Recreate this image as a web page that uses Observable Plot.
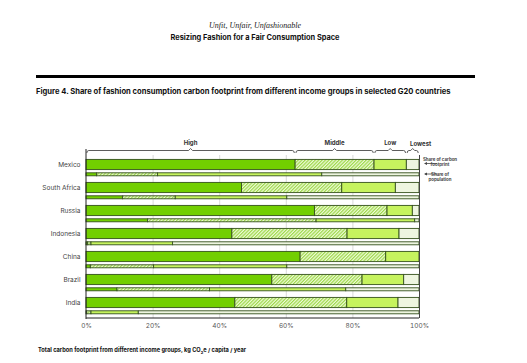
<!DOCTYPE html>
<html><head><meta charset="utf-8">
<script src="https://cdn.jsdelivr.net/npm/d3@7"></script>
<script src="https://cdn.jsdelivr.net/npm/@observablehq/plot@0.6"></script>
<style>
body{margin:0;background:#fff;font-family:Inter,"Liberation Sans",sans-serif;}
#page{position:relative;width:527px;height:363px;overflow:hidden;}
.abs{position:absolute;white-space:nowrap;}
</style></head>
<body><div id="page">
<div class="abs" style="left:0;width:510px;top:21px;text-align:center;font-family:'Liberation Serif','DejaVu Serif',serif;font-style:italic;font-size:8px;color:#222;">Unfit, Unfair, Unfashionable</div>
<div class="abs" style="left:0;width:510px;top:33px;text-align:center;font-weight:700;font-size:7.4px;color:#111;">Resizing Fashion for a Fair Consumption Space</div>
<div class="abs" style="left:36px;top:75px;width:439px;height:3px;background:#000;"></div>
<div class="abs" style="left:36px;top:87px;font-weight:700;font-size:7.6px;color:#111;">Figure 4. Share of fashion consumption carbon footprint from different income groups in selected G20 countries</div>
<div class="abs" style="left:38px;top:346px;font-weight:700;font-size:5.7px;color:#111;">Total carbon footprint from different income groups, kg CO<sub style="font-size:4px">2</sub>e / capita / year</div>
<div id="chart" class="abs" style="left:0;top:125px;"></div>
</div>
<script>
const countries = ["Mexico","South Africa","Russia","Indonesia","China","Brazil","India"];
const groups = ["High","Middle","Low","Lowest"];
// share of carbon footprint (%)
const footprintHigh   = [62.8,46.7,68.6,43.8,64.3,55.8,44.7];
const footprintMiddle = [23.7,30.1,21.8,34.6,25.7,27.1,33.6];
const footprintLow    = [9.7,16.1,7.6,15.6,10.0,12.5,15.4];
const footprintLowest = [3.8,7.1,2.0,6.0,0,4.6,6.3];
// share of population (%)
const populationHigh   = [3.2,11.0,18.5,0.5,1.3,9.3,0.2];
const populationMiddle = [18.3,15.8,50.6,1.0,19.0,27.8,1.3];
const populationLow    = [49.3,33.5,29.6,24.5,40.0,40.9,14.2];
const populationLowest = [29.2,39.7,1.3,74.0,39.7,22.0,84.3];
const xTicks = [0,20,40,60,80,100];

const fp = [footprintHigh,footprintMiddle,footprintLow,footprintLowest];
const pp = [populationHigh,populationMiddle,populationLow,populationLowest];
const footprint = [], population = [];
countries.forEach((c,i)=>{
  groups.forEach((g,j)=>{
    footprint.push({country:c, group:g, value:fp[j][i]});
    population.push({country:c, group:g, value:pp[j][i]});
  });
});

const strokeC = "#34501c";
const plot = Plot.plot({
  width:527, height:215,
  marginLeft:86, marginRight:108, marginTop:30, marginBottom:22,
  style:{fontFamily:"Inter, 'Liberation Sans', sans-serif", fontSize:"6.5px", color:"#555", background:"transparent"},
  x:{domain:[0,100], axis:null},
  y:{domain:countries, padding:0, axis:null},
  color:{domain:groups, range:["#72cf00","url(#hatch)","#c6f35e","#eef5e0"]},
  marks:[
    Plot.ruleX([20,40,60,80], {stroke:"#cfcfcf", strokeWidth:0.8}),
    Plot.barX(footprint, {x:"value", y:"country", fill:"group", stroke:strokeC, strokeWidth:0.9, insetTop:3.4, insetBottom:9.4}),
    Plot.barX(population, {x:"value", y:"country", fill:"group", stroke:strokeC, strokeWidth:0.9, insetTop:16.8, insetBottom:3.2}),
    Plot.ruleX([100], {stroke:"#444", strokeWidth:1}),
    Plot.axisX(xTicks, {tickSize:0, tickPadding:5, tickFormat:d=>d+"%", fontSize:6.5, fill:"#555", label:null}),
    Plot.axisY({tickSize:0, tickPadding:6, dy:-3, fontSize:6.5, fill:"#444", label:null})
  ]
});
document.getElementById("chart").appendChild(plot);

const svg = d3.select(plot);
const defs = svg.insert("defs", ":first-child");
const pat = defs.append("pattern").attr("id","hatch").attr("patternUnits","userSpaceOnUse")
  .attr("width",2.4).attr("height",2.4).attr("patternTransform","rotate(45)");
pat.append("rect").attr("width",2.4).attr("height",2.4).attr("fill","#eefad8");
pat.append("rect").attr("width",1.2).attr("height",2.4).attr("fill","#9ed94a");

const xs = plot.scale("x");
const X = v => xs.apply(v);
const topY = 30, bottomY = 215-22;
svg.append("line").attr("x1",X(0)).attr("x2",X(100)).attr("y1",bottomY).attr("y2",bottomY)
  .attr("stroke","#222").attr("stroke-width",1);
svg.append("line").attr("x1",X(0)).attr("x2",X(0)).attr("y1",topY-6).attr("y2",bottomY+1)
  .attr("stroke","#222").attr("stroke-width",1);

// braces over groups, using Mexico's footprint segments
let acc = 0;
const by = topY - 4.5;
const gb = svg.append("g").attr("fill","none").attr("stroke","#333").attr("stroke-width",0.8);
groups.forEach((grp,j)=>{
  const a = X(acc)+0.8, b = X(acc+fp[j][0])-0.8; acc += fp[j][0];
  const m = (a+b)/2;
  const r = Math.min(2, (b-a)/6);
  gb.append("path").attr("d",
    `M${a},${by+2.5} Q${a},${by} ${a+r},${by} L${m-2},${by} L${m},${by-2} L${m+2},${by} L${b-r},${by} Q${b},${by} ${b},${by+2.5}`);
  svg.append("text").attr("x", grp==="Lowest" ? m+8 : m).attr("y", grp==="Lowest" ? by-5 : by-6)
    .attr("text-anchor","middle").attr("font-size",6).attr("font-weight",700)
    .attr("fill","#333").text(grp);
});

// right annotations
const ann = svg.append("g").attr("font-size",4.4).attr("font-weight",700).attr("fill","#444");
function arrow(y){
  svg.append("line").attr("x1",X(100)+18).attr("x2",X(100)+6).attr("y1",y).attr("y2",y)
    .attr("stroke","#444").attr("stroke-width",0.8);
  svg.append("path").attr("d",`M${X(100)+5},${y} L${X(100)+8},${y-1.5} L${X(100)+8},${y+1.5} Z`).attr("fill","#444");
}
arrow(topY+8.5); arrow(topY+19);
ann.append("text").attr("x",X(100)+21).attr("y",topY+5.5).text("Share of carbon");
ann.append("text").attr("x",X(100)+21).attr("y",topY+10.5).text("footprint");
ann.append("text").attr("x",X(100)+21).attr("y",topY+20.5).text("Share of");
ann.append("text").attr("x",X(100)+21).attr("y",topY+25.5).text("population");
</script>
</body></html>
